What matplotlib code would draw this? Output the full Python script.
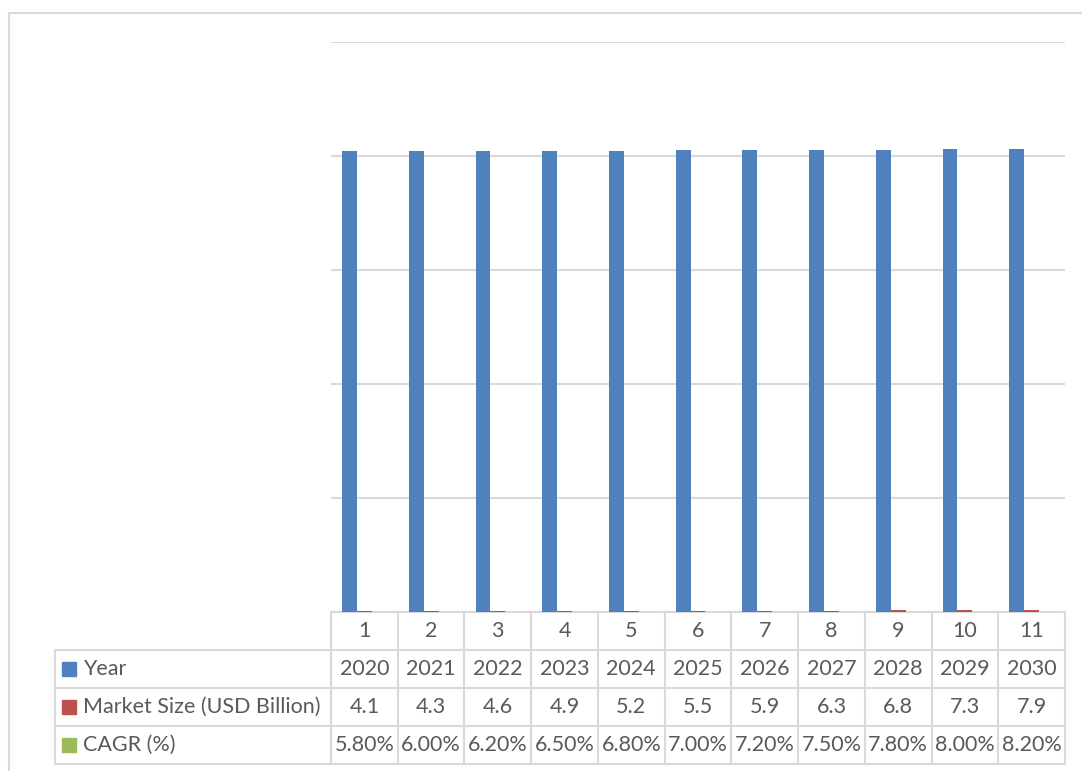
import matplotlib.pyplot as plt
import numpy as np
from matplotlib.patches import Rectangle
from matplotlib.lines import Line2D

plt.rcParams['font.family'] = ['Lato', 'DejaVu Sans']

categories = ["1", "2", "3", "4", "5", "6", "7", "8", "9", "10", "11"]
years = [2020, 2021, 2022, 2023, 2024, 2025, 2026, 2027, 2028, 2029, 2030]
market_size = [4.1, 4.3, 4.6, 4.9, 5.2, 5.5, 5.9, 6.3, 6.8, 7.3, 7.9]
cagr = [5.8, 6.0, 6.2, 6.5, 6.8, 7.0, 7.2, 7.5, 7.8, 8.0, 8.2]
cagr_labels = ["5.80%", "6.00%", "6.20%", "6.50%", "6.80%", "7.00%",
               "7.20%", "7.50%", "7.80%", "8.00%", "8.20%"]
series_names = ["Year", "Market Size (USD Billion)", "CAGR (%)"]
colors = ["#4f81bd", "#c0504d", "#9bbb59"]

text_col = "#595959"
line_col = "#d9d9d9"

W, H = 1082, 771
fig = plt.figure(figsize=(W / 100, H / 100), dpi=100)

# outer chart border
fig.add_artist(Rectangle((9 / W, -0.01), 1.1, 1 - 13 / H + 0.01,
                         transform=fig.transFigure, fill=False,
                         edgecolor=line_col, linewidth=1.5))

x0, x1, y0, y1 = 331, 1065, 612, 42
ax = fig.add_axes([x0 / W, 1 - y0 / H, (x1 - x0) / W, (y0 - y1) / H])

n = len(categories)
x = np.arange(n)
bw = 1 / 4.5
values = [years, market_size, [c / 100 for c in cagr]]
for i, (vals, col) in enumerate(zip(values, colors)):
    ax.bar(x + (i - 1) * bw, vals, width=bw, color=col, zorder=3)

ax.set_xlim(-0.5, n - 0.5)
ax.set_ylim(0, 2500)
ax.set_yticks(np.arange(0, 2501, 500))
ax.set_yticklabels([])
ax.tick_params(length=0)
ax.set_xticks([])
ax.grid(axis="y", color=line_col, linewidth=1.5, zorder=0)
for s in ax.spines.values():
    s.set_visible(False)

# data table under the plot
row_h = 38 / (y0 - y1)
fs = 15.5
trans = ax.get_xaxis_transform()
label_left = (55 - x0) / (x1 - x0)

def hline(xa, xb, y):
    ax.add_line(Line2D([xa, xb], [y, y], transform=ax.transAxes,
                       color=line_col, linewidth=1.5, clip_on=False))

def vline(xa, ya, yb):
    ax.add_line(Line2D([xa, xa], [ya, yb], transform=ax.transAxes,
                       color=line_col, linewidth=1.5, clip_on=False))

hline(0, 1, 0)
hline(label_left, 1, -row_h)
hline(label_left, 1, -2 * row_h)
hline(label_left, 1, -3 * row_h)
hline(label_left, 1, -4 * row_h)
for k in range(n + 1):
    vline(k / n, 0, -4 * row_h)
vline(label_left, -row_h, -4 * row_h)

rows = [categories, [str(y) for y in years],
        [f"{m:.1f}" for m in market_size], cagr_labels]
for r, row in enumerate(rows):
    yc = -(r + 0.5) * row_h
    for k, txt in enumerate(row):
        ax.text(x[k], yc, txt, transform=trans, ha="center", va="center",
                fontsize=fs, color=text_col, clip_on=False)

sq = 14 / (x1 - x0)
sq_h = 14 / (y0 - y1)
for r, (name, col) in enumerate(zip(series_names, colors)):
    yc = -(r + 1.5) * row_h
    ax.add_patch(Rectangle(((62 - x0) / (x1 - x0), yc - sq_h / 2), sq, sq_h,
                           transform=ax.transAxes, color=col, clip_on=False))
    ax.text((83 - x0) / (x1 - x0), yc, name, transform=ax.transAxes,
            ha="left", va="center", fontsize=fs, color=text_col, clip_on=False)

fig.savefig("out.png", dpi=100)
